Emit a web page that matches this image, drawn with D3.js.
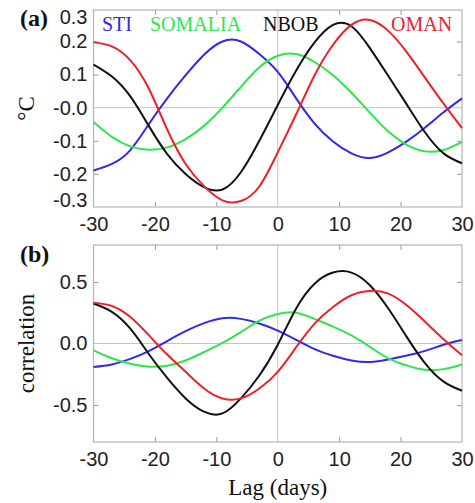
<!DOCTYPE html>
<html>
<head>
<meta charset="utf-8">
<script src="https://cdn.jsdelivr.net/npm/d3@7"></script>
<style>
  body { margin: 0; background: #fff; }
  .tick text { font-family: "Liberation Sans", Arial, sans-serif; font-size: 20px; fill: #222; }
  .tick line { stroke: #999; }
  .serif { font-family: "Liberation Serif", "Times New Roman", serif; }
</style>
</head>
<body>
<div id="chart"></div>
<script>
// lag in days
var lags = [-30, -27, -24, -21, -18, -15, -12, -9, -6, -3, 0, 3, 6, 9, 12, 15, 18, 21, 24, 27, 30];

// (a) composite anomalies, deg C
var stiA     = [-0.19, -0.17, -0.128, -0.05, 0.028, 0.098, 0.16, 0.2, 0.2, 0.162, 0.108, 0.028, -0.048, -0.102, -0.138, -0.152, -0.135, -0.102, -0.06, -0.014, 0.028];
var somaliaA = [-0.043, -0.088, -0.117, -0.127, -0.12, -0.095, -0.055, 0.0, 0.063, 0.122, 0.157, 0.162, 0.138, 0.098, 0.045, -0.015, -0.072, -0.112, -0.132, -0.128, -0.103];
var nbobA    = [0.13, 0.094, 0.034, -0.055, -0.14, -0.2, -0.24, -0.247, -0.195, -0.1, 0.008, 0.112, 0.197, 0.25, 0.246, 0.18, 0.096, 0.01, -0.075, -0.138, -0.168];
var omanA    = [0.198, 0.185, 0.143, 0.058, -0.066, -0.17, -0.237, -0.28, -0.282, -0.238, -0.135, -0.02, 0.098, 0.19, 0.25, 0.265, 0.232, 0.168, 0.09, 0.012, -0.062];

// (b) lag correlation
var stiB     = [-0.19, -0.17, -0.125, -0.062, 0.02, 0.1, 0.165, 0.205, 0.2, 0.163, 0.105, 0.03, -0.045, -0.1, -0.138, -0.15, -0.13, -0.098, -0.06, -0.01, 0.028];
var somaliaB = [-0.055, -0.12, -0.165, -0.188, -0.18, -0.138, -0.07, 0.005, 0.092, 0.185, 0.24, 0.25, 0.2, 0.137, 0.065, -0.027, -0.12, -0.178, -0.214, -0.208, -0.17];
var nbobB    = [0.325, 0.257, 0.12, -0.085, -0.28, -0.446, -0.554, -0.568, -0.446, -0.26, -0.01, 0.285, 0.486, 0.576, 0.576, 0.473, 0.284, 0.054, -0.162, -0.31, -0.384];
var omanB    = [0.332, 0.305, 0.216, 0.068, -0.09, -0.23, -0.365, -0.446, -0.446, -0.365, -0.23, -0.03, 0.162, 0.297, 0.392, 0.427, 0.405, 0.31, 0.176, 0.035, -0.095];

var names  = ["STI", "SOMALIA", "NBOB", "OMAN"];
var colors = ["#3228ea", "#2ee64a", "#111111", "#f0202a"];

var xTicks = [-30, -20, -10, 0, 10, 20, 30];
var yTicksA = [-0.3, -0.2, -0.1, 0, 0.1, 0.2, 0.3];
var yTicksB = [-0.5, 0, 0.5];

var width = 475, height = 503;
var svg = d3.select("#chart").append("svg")
    .attr("width", width)
    .attr("height", height);

var x = d3.scaleLinear().domain([-30, 30]).range([93.5, 462]);

var line = d3.line()
    .curve(d3.curveNatural);

function panel(y, top, bottom, yTicks, fmt, series, tag, ylab, edgeShift) {
  var g = svg.append("g");

  // zero lines
  g.append("line")
    .attr("x1", x(0)).attr("x2", x(0))
    .attr("y1", top).attr("y2", bottom)
    .attr("stroke", "#c4c4c4").attr("stroke-width", 1);
  g.append("line")
    .attr("x1", x(-30)).attr("x2", x(30))
    .attr("y1", y(0)).attr("y2", y(0))
    .attr("stroke", "#c4c4c4").attr("stroke-width", 1);

  var inner = yTicks.filter(function(d) { return d !== 0 && y(d) > top + 2 && y(d) < bottom - 2; });

  // bottom axis with labels
  var xb = g.append("g")
    .attr("transform", "translate(0," + bottom + ")")
    .call(d3.axisBottom(x).tickValues(xTicks).tickSize(-5).tickPadding(10)
      .tickFormat(function(d) { return String(d); }));
  xb.select(".domain").remove();
  xb.selectAll(".tick line").filter(function(d) { return d === 0 || Math.abs(d) === 30; }).remove();

  // top axis ticks only
  var xt = g.append("g")
    .attr("transform", "translate(0," + top + ")")
    .call(d3.axisTop(x).tickValues([-20, -10, 10, 20]).tickSize(-5).tickFormat(""));
  xt.select(".domain").remove();

  // left axis
  var yl = g.append("g")
    .attr("transform", "translate(" + x(-30) + ",0)")
    .call(d3.axisLeft(y).tickValues(yTicks).tickSize(-5).tickPadding(6).tickFormat(fmt));
  yl.select(".domain").remove();
  yl.selectAll(".tick line").filter(function(d) { return inner.indexOf(d) < 0; }).remove();
  yl.selectAll(".tick text").attr("y", function(d) { return edgeShift(d); });

  // right axis ticks only
  var yr = g.append("g")
    .attr("transform", "translate(" + x(30) + ",0)")
    .call(d3.axisRight(y).tickValues(inner).tickSize(-5).tickFormat(""));
  yr.select(".domain").remove();

  // frame
  g.append("rect")
    .attr("x", x(-30)).attr("y", top)
    .attr("width", x(30) - x(-30)).attr("height", bottom - top)
    .attr("fill", "none").attr("stroke", "#b4b4b4").attr("stroke-width", 1.2);

  // curves
  series.forEach(function(s, i) {
    var pts = lags.map(function(l, j) { return [x(l), y(s[j])]; });
    g.append("path")
      .attr("d", line(pts))
      .attr("fill", "none")
      .attr("stroke", colors[i])
      .attr("stroke-width", 2);
  });

  g.append("text")
    .attr("class", "serif")
    .attr("x", 20).attr("y", tag === "(a)" ? 26 : 262)
    .attr("font-size", 24).attr("font-weight", "bold")
    .attr("fill", "#111")
    .text(tag);

  g.append("text")
    .attr("class", "serif")
    .attr("transform", "translate(34," + ((top + bottom) / 2) + ") rotate(-90)")
    .attr("text-anchor", "middle")
    .attr("font-size", 23)
    .attr("fill", "#111")
    .text(ylab);

  return g;
}

var yA = d3.scaleLinear().domain([-0.3, 0.295]).range([207, 10]);
var yB = d3.scaleLinear().domain([-0.8, 0.8]).range([442, 245]);

var gA = panel(yA, 10, 207, yTicksA,
  function(d) { return d === 0 ? "-0.0" : d.toFixed(1); },
  [stiA, somaliaA, nbobA, omanA], "(a)", "°C",
  function(d) { return d === 0.3 ? 8.5 : (d === -0.3 ? -7 : 0); });

var gB = panel(yB, 245, 442, yTicksB,
  function(d) { return d.toFixed(1); },
  [stiB, somaliaB, nbobB, omanB], "(b)", "correlation",
  function(d) { return 0; });

// legend in panel (a)
var legendX = [102, 150, 263, 391];
gA.selectAll(".legendName")
  .data(names)
  .enter()
  .append("text")
    .attr("class", "serif legendName")
    .attr("x", function(d, i) { return legendX[i]; })
    .attr("y", 31)
    .attr("font-size", 20)
    .attr("fill", function(d, i) { return colors[i]; })
    .text(function(d) { return d; });

svg.append("text")
  .attr("class", "serif")
  .attr("x", (x(-30) + x(30)) / 2)
  .attr("y", 495)
  .attr("text-anchor", "middle")
  .attr("font-size", 23)
  .attr("fill", "#111")
  .text("Lag (days)");
</script>
</body>
</html>
